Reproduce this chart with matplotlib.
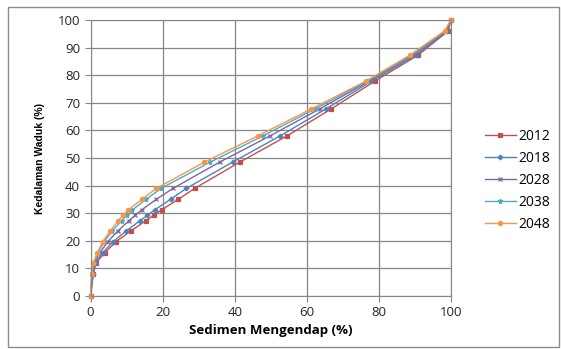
import matplotlib
matplotlib.use("Agg")
import matplotlib.pyplot as plt
from matplotlib.patches import Rectangle

# depth levels (%) shared by all series
depth = [0, 8, 12, 15.7, 19.7, 23.5, 27.3, 29.3, 31.2, 35, 39, 48.5, 58, 67.8, 77.8, 87.2, 96, 100]

sed_2012 = [0, 0.8, 1.5, 4.0, 7.1, 11.1, 15.4, 17.6, 19.7, 24.3, 28.9, 41.4, 54.5, 66.8, 78.8, 90.8, 99.2, 100]
sed_2018 = [0, 0.7, 1.3, 3.4, 6.3, 9.8, 13.8, 15.8, 17.8, 22.2, 26.6, 39.4, 52.6, 65.3, 77.9, 90.2, 99.0, 100]
sed_2028 = [0, 0.5, 1.0, 2.6, 4.8, 7.5, 10.7, 12.4, 14.2, 18.2, 22.9, 35.8, 49.8, 63.6, 77.2, 89.5, 98.7, 100]
sed_2038 = [0, 0.4, 0.9, 2.1, 3.8, 6.0, 8.6, 10.1, 11.6, 15.4, 19.6, 33.2, 47.8, 62.3, 76.7, 89.0, 98.4, 100]
sed_2048 = [0, 0.3, 0.8, 1.9, 3.4, 5.4, 7.7, 9.1, 10.5, 14.2, 18.3, 31.6, 46.4, 61.3, 76.3, 88.5, 98.2, 100]

years = ["2012", "2018", "2028", "2038", "2048"]
series = [sed_2012, sed_2018, sed_2028, sed_2038, sed_2048]
colors = ["#C0504D", "#4F81BD", "#8064A2", "#4BACC6", "#F79646"]
markers = ["s", "D", "x", "*", "o"]
msizes = [3.2, 2.4, 3.2, 3.6, 3.0]

plt.rcParams["font.family"] = ["Open Sans", "DejaVu Sans"]

fig = plt.figure(figsize=(5.61, 3.49), dpi=100)
fig.patches.append(Rectangle((8 / 561, 1 - 347 / 349), 551 / 561, 340 / 349,
                             transform=fig.transFigure, fill=False,
                             edgecolor="#8c8c8c", linewidth=1.0))
ax = fig.add_axes([90.5 / 561, 1 - 296 / 349, 360.5 / 561, 276 / 349])

for name, xs, c, m, ms in zip(years, series, colors, markers, msizes):
    ax.plot(xs, depth, color=c, marker=m, markersize=ms, linewidth=1.0,
            markeredgewidth=0.9, label=name, clip_on=False)

ax.set_xlim(0, 100)
ax.set_ylim(0, 100)
ax.set_xticks(range(0, 101, 20))
ax.set_yticks(range(0, 101, 10))
ax.grid(True, color="#868686", linewidth=0.9)
ax.set_axisbelow(True)
for s in ax.spines.values():
    s.set_color("#868686")
ax.tick_params(colors="#868686", labelcolor="#262626", labelsize=9.5, length=4)

ax.set_xlabel("Sedimen Mengendap (%)", fontsize=9.5, fontweight="bold", labelpad=3)
ax.set_ylabel("Kedalaman Waduk (%)", fontsize=7.5, fontweight="bold",
              family=["Liberation Sans Narrow", "Liberation Sans", "DejaVu Sans"], labelpad=9)

ax.legend(loc="upper left", bbox_to_anchor=(1.06, 0.65), frameon=False,
          fontsize=10, handlelength=2.2, labelspacing=0.5, handletextpad=0.2)

fig.savefig("out.png", dpi=100)
